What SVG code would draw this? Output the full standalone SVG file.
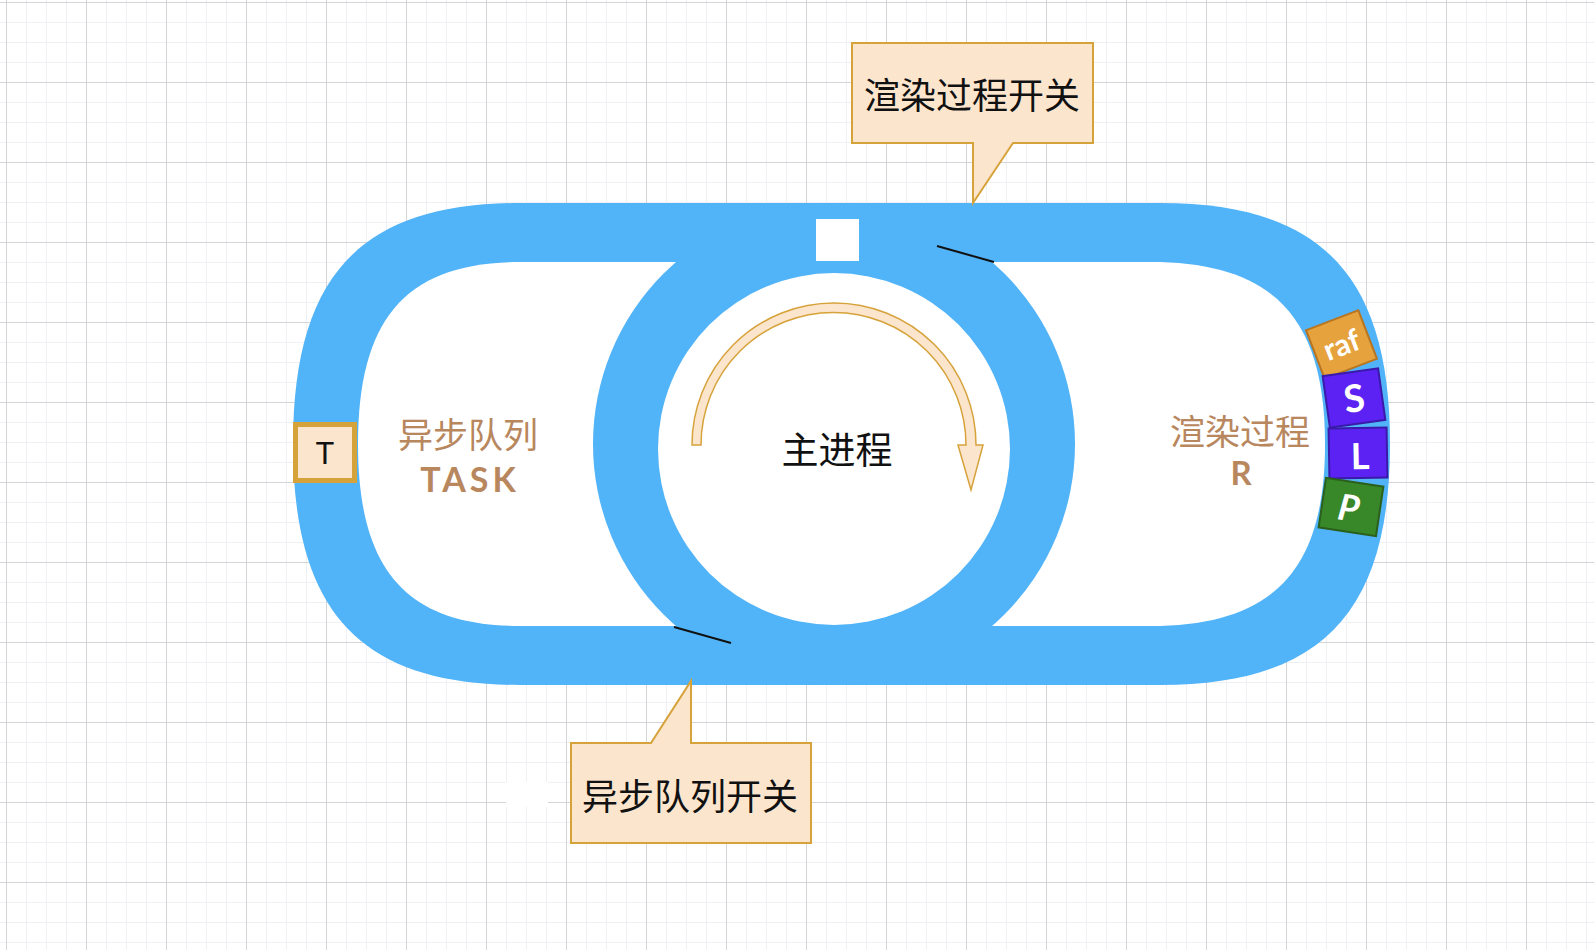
<svg xmlns="http://www.w3.org/2000/svg" width="1594" height="950" viewBox="0 0 1594 950">
<defs>
<pattern id="grid" x="6" y="2" width="80" height="80" patternUnits="userSpaceOnUse">
<path d="M20.5 0V80M40.5 0V80M60.5 0V80M0 20.5H80M0 40.5H80M0 60.5H80" stroke="#eef0f3" stroke-width="1" fill="none"/>
<path d="M0.5 0V80M0 0.5H80" stroke="#d3d4d8" stroke-width="1" fill="none"/>
</pattern>
<style>
.track{fill:#51b3f8}
.hole{fill:#ffffff}
.callout{fill:#fce5cd;stroke:#d6a23a;stroke-width:2}
.cjk{font-family:"Noto Sans CJK SC","Noto Sans",sans-serif}
.black{fill:#111111}
.brown{fill:#b8875e}
.latin{font-family:Lato,"Open Sans",sans-serif;font-weight:700}
.sw{stroke:#111111;stroke-width:2;fill:none}
.blk{stroke-width:2}
.wt{fill:#ffffff;font-family:Lato,"Open Sans",sans-serif;font-weight:700}
</style>
</defs>
<rect width="1594" height="950" fill="#ffffff"/>
<rect width="1594" height="950" fill="url(#grid)"/>
<rect x="506" y="782" width="42" height="25" fill="#ffffff"/>

<g id="track">
<path class="track" d="M520 203H1160C1321 203 1390 275 1390 444C1390 613 1321 685 1160 685H520C361 685 293 613 293 444C293 275 361 203 520 203Z"/>
<path class="hole" d="M520 262H760V626H520C407 626 358 571 358 444C358 317 407 262 520 262Z"/>
<path class="hole" d="M900 262H1150C1273 262 1325 317 1325 444C1325 571 1273 626 1150 626H900Z"/>
<circle class="track" cx="834" cy="444" r="241"/>
<circle class="hole" cx="834" cy="449" r="176"/>
<rect class="hole" x="816" y="219" width="43" height="42"/>
</g>

<g id="switches">
<line class="sw" x1="937" y1="246" x2="994" y2="262"/>
<line class="sw" x1="674" y1="627" x2="731" y2="643"/>
</g>

<g id="main-process">
<path fill="#fce5cd" stroke="#d6a23a" stroke-width="1.5" d="M692 445A142 142 0 0 1 976 445L983 445L971 490L958 445L966 445A132.5 132.5 0 0 0 701 445Z"/>
<text class="cjk black" x="837" y="464" font-size="37" text-anchor="middle">主进程</text>
</g>

<g id="callout-render">
<path class="callout" d="M852 43H1093V143H1013L973 203V143H852Z"/>
<text class="cjk black" x="972" y="109" font-size="36" text-anchor="middle">渲染过程开关</text>
</g>

<g id="callout-async">
<path class="callout" d="M571 743H651L691 681V743H811V843H571Z"/>
<text class="cjk black" x="690" y="810" font-size="36" text-anchor="middle">异步队列开关</text>
</g>

<g id="async-queue">
<text class="cjk brown" x="468" y="448" font-size="35" text-anchor="middle">异步队列</text>
<text class="latin brown" x="470" y="492" font-size="34" letter-spacing="4" text-anchor="middle">TASK</text>
</g>

<g id="render">
<text class="cjk brown" x="1240" y="445" font-size="35" text-anchor="middle">渲染过程</text>
<text class="latin brown" x="1241" y="485" font-size="33" text-anchor="middle">R</text>
</g>

<g id="task-T">
<rect x="295.5" y="424.5" width="59" height="56" fill="#fce5cd" stroke="#d6a23a" stroke-width="5"/>
<text x="325" y="464" font-size="31" fill="#111111" text-anchor="middle" font-family="Lato,'Open Sans',sans-serif">T</text>
</g>

<g id="raf" transform="translate(1341.5 344.5) rotate(-21)">
<rect class="blk" x="-28" y="-26" width="56" height="52" fill="#e6a23c" stroke="#b87520"/>
<text class="wt" x="0" y="11" font-size="30" text-anchor="middle">raf</text>
</g>
<g id="S" transform="translate(1354 398) rotate(-8)">
<rect class="blk" x="-28" y="-26" width="56" height="52" fill="#5c22f3" stroke="#3a1aa8"/>
<text class="wt" x="0" y="14" font-size="38" text-anchor="middle">S</text>
</g>
<g id="L" transform="translate(1358 453) rotate(-1)">
<rect class="blk" x="-29" y="-25" width="58" height="50" fill="#5c22f3" stroke="#3a1aa8"/>
<text class="wt" x="2" y="16" font-size="36" text-anchor="middle">L</text>
</g>
<g id="P" transform="translate(1351 507) rotate(8.5)">
<rect class="blk" x="-29" y="-25" width="58" height="50" fill="#38882a" stroke="#2a5f1c"/>
<text class="wt" x="-2" y="14" font-size="36" text-anchor="middle" font-style="italic">P</text>
</g>
</svg>
